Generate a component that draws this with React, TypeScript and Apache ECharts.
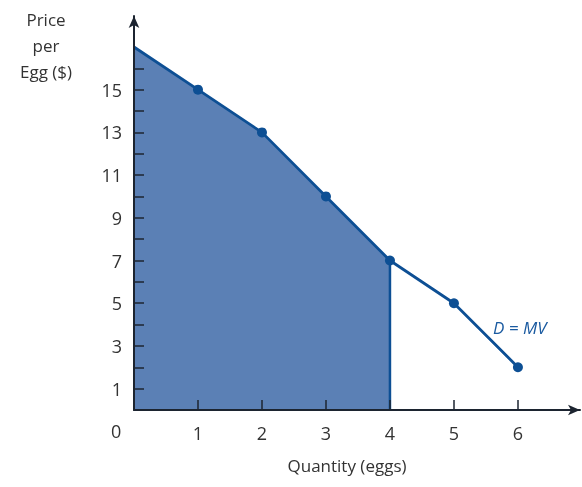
import React, { useEffect, useRef } from "react";
import * as echarts from "echarts";

const quantities = [0, 1, 2, 3, 4, 5, 6];
const prices = [17, 15, 13, 10, 7, 5, 2];
const surplusEnd = 4;
const yTickValues = [1, 2, 3, 4, 5, 6, 7, 8, 9, 10, 11, 12, 13, 14, 15, 16];
const yLabelValues = [1, 3, 5, 7, 9, 11, 13, 15];
const xTickValues = [1, 2, 3, 4, 5, 6];
const curveLabel = "D = MV";
const yName = "Price\nper\nEgg ($)";
const xName = "Quantity (eggs)";

const FONT = "'Open Sans', Lato, sans-serif";
const LINE = "#0d4f94";
const FILL = "#5b80b5";
const AXIS = "#1c2430";

export default function App() {
  const ref = useRef<HTMLDivElement>(null);
  useEffect(() => {
    if (!ref.current) return;
    const chart = echarts.init(ref.current, undefined, { renderer: "svg" });
    const linePts = quantities.map((q, i) => [q, prices[i]]);
    const areaPts = linePts.filter((p) => p[0] <= surplusEnd);
    const endPrice = prices[quantities.indexOf(surplusEnd)];
    chart.setOption({
      animation: false,
      grid: { left: 134, right: 2, top: 16, bottom: 77 },
      xAxis: {
        type: "value",
        min: 0,
        max: 6.97,
        interval: 1,
        z: 10,
        splitLine: { show: false },
        axisLine: {
          onZero: false,
          symbol: ["none", "arrow"],
          symbolSize: [8, 12],
          lineStyle: { color: AXIS, width: 2 },
        },
        axisTick: {
          inside: true,
          length: 10,
          customValues: xTickValues,
          lineStyle: { color: AXIS, width: 1.5 },
        },
        axisLabel: {
          customValues: xTickValues,
          margin: 14,
          fontSize: 18,
          color: "#333",
          fontFamily: FONT,
        },
      },
      yAxis: {
        type: "value",
        min: 0,
        max: 18.45,
        interval: 1,
        z: 10,
        splitLine: { show: false },
        axisLine: {
          show: true,
          onZero: false,
          symbol: ["none", "arrow"],
          symbolSize: [8, 12],
          lineStyle: { color: AXIS, width: 2 },
        },
        axisTick: {
          show: true,
          inside: true,
          length: 10,
          customValues: yTickValues,
          lineStyle: { color: AXIS, width: 1.5 },
        },
        axisLabel: {
          customValues: yLabelValues,
          margin: 12,
          fontSize: 18,
          color: "#333",
          fontFamily: FONT,
        },
      },
      graphic: [
        {
          type: "text",
          left: 111,
          top: 422,
          style: { text: "0", fontSize: 18, fill: "#333", fontFamily: FONT },
        },
        {
          type: "text",
          x: 46,
          y: 6,
          style: {
            text: yName,
            fontSize: 17,
            lineHeight: 26,
            fill: "#333",
            fontFamily: FONT,
            textAlign: "center",
          },
        },
        {
          type: "text",
          x: 347,
          y: 457,
          style: {
            text: xName,
            fontSize: 17,
            fill: "#333",
            fontFamily: FONT,
            textAlign: "center",
          },
        },
        {
          type: "text",
          x: 493,
          y: 319,
          style: {
            text: curveLabel,
            fontSize: 17,
            fontStyle: "italic",
            fill: "#1a5aa0",
            fontFamily: FONT,
          },
        },
      ],
      series: [
        {
          type: "line",
          data: areaPts,
          showSymbol: false,
          lineStyle: { width: 0 },
          areaStyle: { color: FILL, opacity: 1, origin: 0 },
          z: 1,
        },
        {
          type: "line",
          data: [
            [surplusEnd, 0],
            [surplusEnd, endPrice],
          ],
          showSymbol: false,
          lineStyle: { color: LINE, width: 2.5 },
          z: 2,
        },
        {
          type: "line",
          data: linePts,
          symbol: "circle",
          symbolSize: (v: number[]) => (v[0] === 0 ? 0 : 10),
          itemStyle: { color: LINE },
          lineStyle: { color: LINE, width: 2.8 },
          z: 3,
        },
      ],
    });
    return () => chart.dispose();
  }, []);
  return (
    <div
      ref={ref}
      style={{ position: "fixed", left: 0, top: 0, width: 582, height: 487 }}
    />
  );
}
